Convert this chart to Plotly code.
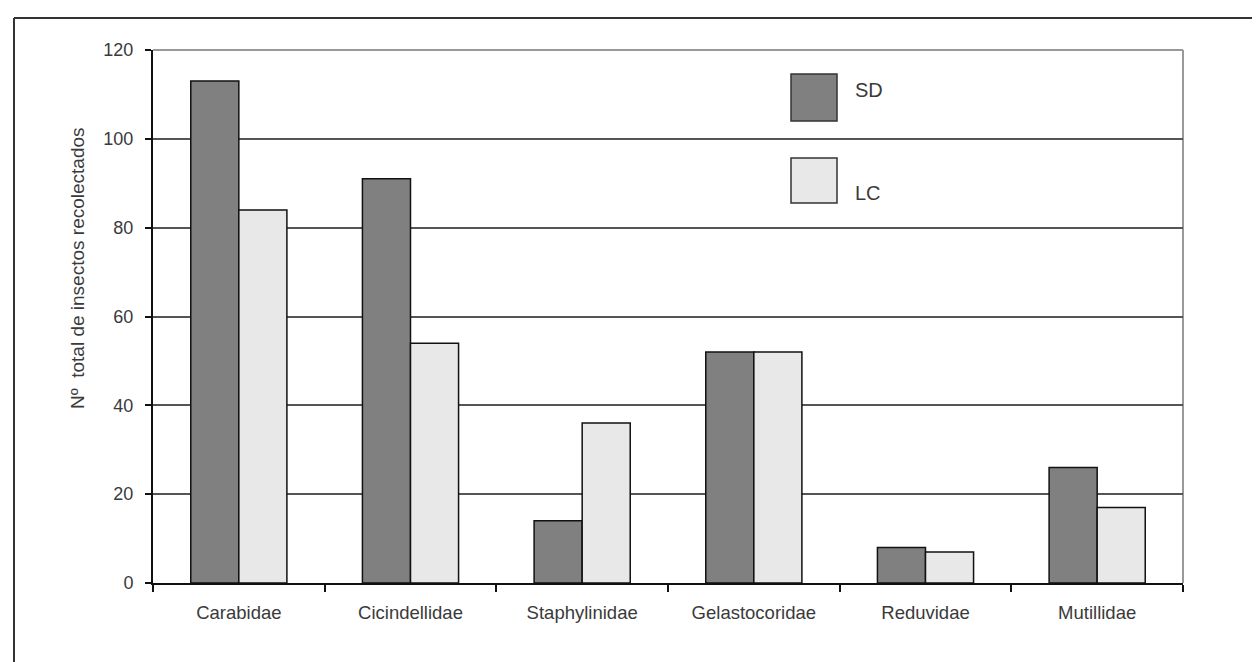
import plotly.graph_objects as go

categories = ["Carabidae", "Cicindellidae", "Staphylinidae", "Gelastocoridae", "Reduvidae", "Mutillidae"]
sd_values = [113, 91, 14, 52, 8, 26]
lc_values = [84, 54, 36, 52, 7, 17]
series_names = ["SD", "LC"]
y_ticks = [0, 20, 40, 60, 80, 100, 120]
y_title = "N\u00ba  total de insectos recolectados"

SD_COLOR = "#808080"
LC_COLOR = "#e8e8e8"
FONT = "Liberation Sans, Arial, sans-serif"
TXT = "#3a3a3a"

fig = go.Figure()
fig.add_trace(go.Bar(x=categories, y=sd_values, name=series_names[0],
                     marker=dict(color=SD_COLOR, line=dict(color="#111", width=1.5)),
                     showlegend=False))
fig.add_trace(go.Bar(x=categories, y=lc_values, name=series_names[1],
                     marker=dict(color=LC_COLOR, line=dict(color="#111", width=1.5)),
                     showlegend=False))

# page has an 8px body offset; plot area on screen: x 153..1183, y 50..583
OFF = 8
PL, PR, PT, PB = 153, 1183, 50, 583
W, H = 1260 - OFF, 662 - OFF
pw, ph = PR - PL, PB - PT

def px(x):
    return (x - PL) / pw

def py(y):
    return (PB - y) / ph

shapes = [
    # outer frame (cropped)
    dict(type="line", xref="paper", yref="paper", x0=px(14), x1=px(1300), y0=py(18), y1=py(18),
         line=dict(color="#333", width=2)),
    dict(type="line", xref="paper", yref="paper", x0=px(14), x1=px(14), y0=py(18), y1=py(700),
         line=dict(color="#333", width=2)),
    # plot area top and right borders
    dict(type="line", xref="paper", yref="paper", x0=0, x1=1, y0=1, y1=1,
         line=dict(color="#999", width=2), layer="below"),
    dict(type="line", xref="paper", yref="paper", x0=1, x1=1, y0=0, y1=1,
         line=dict(color="#999", width=2), layer="below"),
    # legend swatches
    dict(type="rect", xref="paper", yref="paper", x0=px(791), x1=px(837), y0=py(121), y1=py(74),
         fillcolor=SD_COLOR, line=dict(color="#333", width=1.5)),
    dict(type="rect", xref="paper", yref="paper", x0=px(791), x1=px(837), y0=py(203), y1=py(158),
         fillcolor=LC_COLOR, line=dict(color="#333", width=1.5)),
]

annotations = [
    dict(xref="paper", yref="paper", x=px(853), y=py(90), text=series_names[0], showarrow=False,
         xanchor="left", yanchor="middle", font=dict(family=FONT, size=20, color=TXT)),
    dict(xref="paper", yref="paper", x=px(853), y=py(193), text=series_names[1], showarrow=False,
         xanchor="left", yanchor="middle", font=dict(family=FONT, size=20, color=TXT)),
    dict(xref="paper", yref="paper", x=px(77), y=py(268), text=y_title, showarrow=False,
         textangle=-90, xanchor="center", yanchor="middle",
         font=dict(family=FONT, size=19, color=TXT)),
]

fig.update_layout(
    width=W, height=H,
    margin=dict(l=PL - OFF, r=W + OFF - PR, t=PT - OFF, b=H + OFF - PB, pad=0),
    paper_bgcolor="white", plot_bgcolor="white",
    barmode="group", bargap=0.44, bargroupgap=0,
    font=dict(family=FONT, size=18, color=TXT),
    shapes=shapes, annotations=annotations,
    xaxis=dict(showline=True, linecolor="#111", linewidth=2, ticks="outside", tickson="boundaries",
               ticklen=7, tickwidth=2, tickcolor="#111", showgrid=False, ticklabelstandoff=12,
               tickfont=dict(family=FONT, size=18.5, color=TXT)),
    yaxis=dict(range=[0, 120], tickvals=y_ticks, showline=True, linecolor="#111", linewidth=2,
               ticks="outside", ticklen=6, tickwidth=1.5, tickcolor="#111", ticklabelstandoff=8,
               showgrid=True, gridcolor="#555", gridwidth=1.5, zeroline=False,
               tickfont=dict(family=FONT, size=18, color=TXT)),
)

fig.write_html("out.html")
